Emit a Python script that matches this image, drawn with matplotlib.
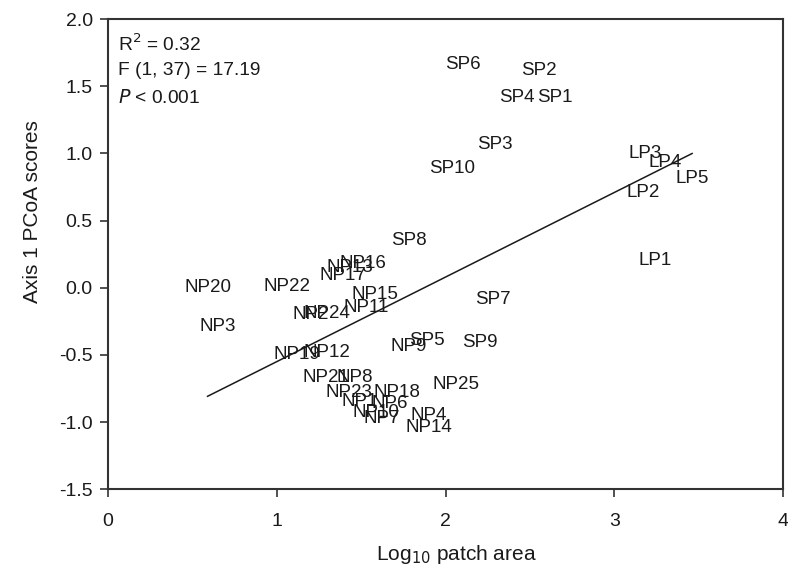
import matplotlib
matplotlib.use('Agg')
import matplotlib.pyplot as plt

plt.rcParams['font.family'] = ['Liberation Sans', 'DejaVu Sans']

# patch labels, log10 patch area, axis 1 PCoA score
labels = ['SP6', 'SP2', 'SP4', 'SP1', 'SP3', 'SP10', 'SP8', 'SP7', 'SP5', 'SP9',
          'LP3', 'LP4', 'LP5', 'LP2', 'LP1',
          'NP20', 'NP22', 'NP3', 'NP17', 'NP16', 'NP13', 'NP15', 'NP11', 'NP24',
          'NP2', 'NP12', 'NP19', 'NP9', 'NP21', 'NP8', 'NP23', 'NP18', 'NP25',
          'NP1', 'NP6', 'NP10', 'NP7', 'NP4', 'NP14']
log_area = [2.10, 2.55, 2.42, 2.65, 2.29, 2.04, 1.78, 2.28, 1.89, 2.20,
            3.18, 3.30, 3.46, 3.17, 3.24,
            0.59, 1.06, 0.65, 1.39, 1.51, 1.43, 1.58, 1.53, 1.30,
            1.20, 1.30, 1.12, 1.78, 1.29, 1.46, 1.43, 1.71, 2.06,
            1.49, 1.67, 1.59, 1.62, 1.90, 1.90]
pcoa1 = [1.66, 1.62, 1.42, 1.42, 1.07, 0.89, 0.35, -0.09, -0.39, -0.41,
         1.00, 0.93, 0.81, 0.71, 0.20,
         0.00, 0.01, -0.29, 0.09, 0.18, 0.15, -0.05, -0.15, -0.19,
         -0.20, -0.48, -0.50, -0.44, -0.67, -0.67, -0.78, -0.78, -0.72,
         -0.85, -0.86, -0.93, -0.97, -0.95, -1.04]

# fitted regression line
slope = 0.63
intercept = -1.18

fig = plt.figure(figsize=(7.88, 5.81), dpi=100)
ax = fig.add_axes([0.137, 0.158, 0.857, 0.809])

for lab, x, y in zip(labels, log_area, pcoa1):
    ax.text(x, y, lab, ha='center', va='center', fontsize=13.5, color='#1a1a1a')

xmin, xmax = min(log_area), max(log_area)
ax.plot([xmin, xmax], [intercept + slope * xmin, intercept + slope * xmax],
        color='#1a1a1a', lw=1.1)

ax.set_xlim(0, 4)
ax.set_ylim(-1.5, 2.0)
ax.set_xticks([0, 1, 2, 3, 4])
ax.set_yticks([-1.5, -1.0, -0.5, 0.0, 0.5, 1.0, 1.5, 2.0])
ax.set_yticklabels(['-1.5', '-1.0', '-0.5', '0.0', '0.5', '1.0', '1.5', '2.0'])
ax.tick_params(direction='out', length=6, width=1.2, labelsize=14,
               color='#333333', labelcolor='#1a1a1a')
ax.tick_params(axis='x', pad=11)
ax.tick_params(axis='y', pad=5)
for s in ax.spines.values():
    s.set_linewidth(1.5)
    s.set_color('#333333')

ax.set_xlabel('Log$_{10}$ patch area', fontsize=15, color='#1a1a1a')
ax.xaxis.set_label_coords(0.516, -0.114)
ax.set_ylabel('Axis 1 PCoA scores', fontsize=15, color='#1a1a1a')
ax.yaxis.set_label_coords(-0.098, 0.59)

ax.text(0.06, 1.81, 'R$^2$ = 0.32', fontsize=13.8, va='center', color='#1a1a1a')
ax.text(0.06, 1.615, 'F (1, 37) = 17.19', fontsize=13.8, va='center', color='#1a1a1a')
ax.text(0.06, 1.415, '$\\it{P}$ < 0.001', fontsize=13.8, va='center', color='#1a1a1a')

fig.savefig('out.png', dpi=100)
